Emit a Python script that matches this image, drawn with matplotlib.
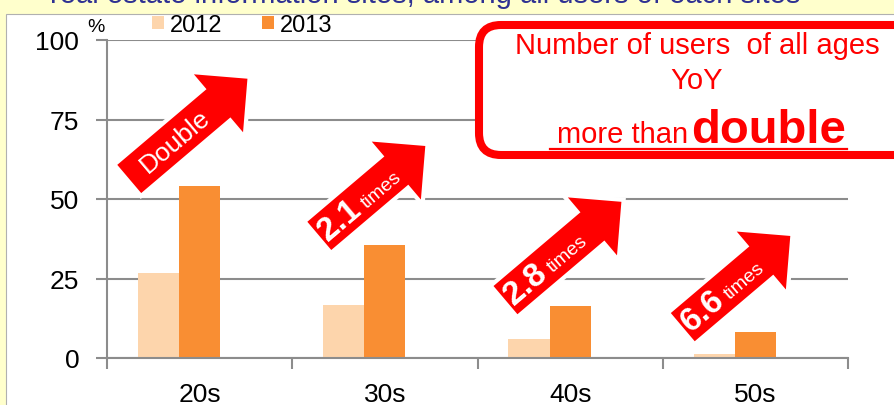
import numpy as np
import matplotlib.pyplot as plt
from matplotlib.patches import Polygon, FancyBboxPatch, Rectangle
from matplotlib.lines import Line2D
from matplotlib.transforms import IdentityTransform

plt.rcParams['font.family'] = ['Liberation Sans', 'DejaVu Sans']

# data
ages = ['20s', '30s', '40s', '50s']
users_2012 = [26.6, 16.6, 6.0, 1.3]
users_2013 = [54.0, 35.4, 16.3, 8.1]

# growth arrows: tail anchor (category offset, value), length in px, text
arrow_x = [-0.38, 0.646, 1.651, 2.608]
arrow_y = [56.3, 38.4, 18.2, 9.7]
arrow_len = [155, 139, 152, 141]
arrow_num = ['Double', '2.1', '2.8', '6.6']

c2012 = '#FDD5AC'
c2013 = '#F98E33'
red = '#FF0000'
grey = '#8C8C8C'

W, H = 894, 406
fig = plt.figure(figsize=(W / 100, H / 100), dpi=100)
fig.patch.set_facecolor('#FFFFCC')
ident = IdentityTransform()

# white slide panel
fig.add_artist(Rectangle((6, -5), W, H - 10, transform=ident, facecolor='white',
                         edgecolor='#B0B0B0', lw=0.8, zorder=-1))
# slide title, cut off at the top edge like the source
fig.text(50 / W, 403 / H, 'real estate information sites, among all users of each sites',
         fontsize=21, color='#2E3192', va='baseline')

ax = fig.add_axes([107 / W, (H - 359) / H, (848 - 107) / W, (359 - 41) / H])
ax.set_facecolor('none')

x = np.arange(len(ages))
bw = 0.222
ax.bar(x - bw, users_2012, bw, color=c2012, label='2012', zorder=2)
ax.bar(x, users_2013, bw, color=c2013, label='2013', zorder=2)

ax.set_xlim(-0.5, 3.5)
ax.set_ylim(0, 100)
ax.set_yticks([0, 25, 50, 75, 100])
ax.set_xticks(np.arange(-0.5, 4, 1))
ax.set_xticklabels([])
ax.set_xticks(x, minor=True)
ax.set_xticklabels(ages, minor=True, fontsize=19)
ax.tick_params(axis='x', which='minor', length=0, pad=17)
ax.tick_params(axis='x', which='major', length=8, width=1.5, color=grey)
ax.tick_params(axis='y', length=8, width=1.5, color=grey, labelsize=19, pad=12)
ax.yaxis.grid(True, color=grey, lw=1.5)
ax.set_axisbelow(True)
for s in ['top', 'right']:
    ax.spines[s].set_visible(False)
for s in ['left', 'bottom']:
    ax.spines[s].set_color(grey)
    ax.spines[s].set_linewidth(1.5)

fig.text(96 / W, (H - 28) / H, '%', fontsize=14, ha='center', va='center')

fig.legend(loc='center left', bbox_to_anchor=(152 / W, (H - 26) / H), ncol=2, frameon=False,
           fontsize=17, handlelength=0.5, handleheight=0.5, handletextpad=0.25,
           columnspacing=1.7, borderpad=0, borderaxespad=0)

# red block arrows
renderer = fig.canvas.get_renderer()
ang = 40.3
a = np.radians(ang)
u = np.array([np.cos(a), np.sin(a)])
v = np.array([-np.sin(a), np.cos(a)])
sw, hw, hl = 37, 76, 38
for ax_, ay_, L, lab in zip(arrow_x, arrow_y, arrow_len, arrow_num):
    t0 = np.array(ax.transData.transform((ax_, ay_)))
    local = [(0, -sw / 2), (L - hl, -sw / 2), (L - hl, -hw / 2), (L, 0),
             (L - hl, hw / 2), (L - hl, sw / 2), (0, sw / 2)]
    pts = np.array([t0 + s * u + t * v for s, t in local])
    fig.add_artist(Polygon(pts, closed=True, transform=ident, facecolor='white',
                           edgecolor='white', lw=6, joinstyle='miter', zorder=3))
    fig.add_artist(Polygon(pts, closed=True, transform=ident, facecolor=red,
                           edgecolor='none', zorder=3.1))
    if lab == 'Double':
        p = t0 + 60 * u
        fig.text(p[0] / W, p[1] / H, lab, fontsize=19, color='white', rotation=ang,
                 rotation_mode='anchor', ha='center', va='center', zorder=3.2)
    else:
        p = t0 + 3 * u - 9 * v
        tn = fig.text(p[0] / W, p[1] / H, lab, fontsize=24, fontweight='bold', color='white',
                      ha='left', va='baseline', zorder=3.2)
        wn = tn.get_window_extent(renderer).width
        tn.set_rotation(ang)
        tn.set_rotation_mode('anchor')
        p2 = p + (wn + 5) * u
        fig.text(p2[0] / W, p2[1] / H, 'times', fontsize=14, color='white', rotation=ang,
                 rotation_mode='anchor', ha='left', va='baseline', zorder=3.2)

# summary box
fig.add_artist(FancyBboxPatch((479, H - 156), 500, 130, boxstyle='round,pad=0,rounding_size=22',
                              transform=ident, facecolor='white', edgecolor=red, lw=5.8, zorder=5))
fig.text(697 / W, (H - 46) / H, 'Number of users  of all ages', fontsize=21, color=red,
         ha='center', va='center', zorder=6)
fig.text(697 / W, (H - 81) / H, 'YoY', fontsize=21, color=red, ha='center', va='center', zorder=6)
fig.text(688 / W, (H - 143) / H, 'more than', fontsize=21, color=red, ha='right',
         va='baseline', zorder=6)
fig.text(691 / W, (H - 143) / H, 'double', fontsize=34, fontweight='bold', color=red,
         ha='left', va='baseline', zorder=6)
fig.add_artist(Line2D([550, 847], [H - 150, H - 150], transform=ident, color=red, lw=1.6, zorder=6))

fig.savefig('out.png', dpi=100)
